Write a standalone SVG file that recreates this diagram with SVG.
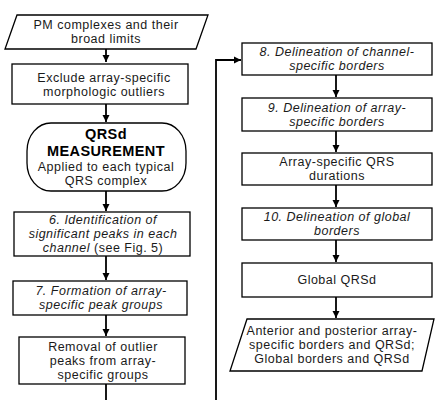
<svg xmlns="http://www.w3.org/2000/svg" width="435" height="400" viewBox="0 0 435 400">
<defs>
<style>
.b{fill:#fff;stroke:#000;stroke-width:1.3}
text{font-family:"Liberation Sans",Arial,sans-serif;font-size:12.5px;letter-spacing:0.5px;fill:#1a1a1a;text-anchor:middle}
.i{font-style:italic}
.h{font-weight:bold;font-size:14.5px;letter-spacing:0.4px;fill:#000}
.c{fill:none;stroke:#000;stroke-width:1.8}
</style>
<marker id="ah" markerWidth="8" markerHeight="8" refX="7" refY="4" orient="auto" markerUnits="userSpaceOnUse">
<path d="M0,0.5 L7,4 L0,7.5 Z" fill="#000"/>
</marker>
</defs>
<g id="connectors">
<path class="c" d="M106,49 V62" marker-end="url(#ah)"/>
<path class="c" d="M106,104 V122" marker-end="url(#ah)"/>
<path class="c" d="M106,191 V211" marker-end="url(#ah)"/>
<path class="c" d="M106,256 V280" marker-end="url(#ah)"/>
<path class="c" d="M106,315 V336" marker-end="url(#ah)"/>
<path class="c" d="M106,384 V400"/>
<path class="c" d="M216,400 V60 H241" marker-end="url(#ah)"/>
<path class="c" d="M336,75 V97" marker-end="url(#ah)"/>
<path class="c" d="M336,131 V152" marker-end="url(#ah)"/>
<path class="c" d="M336,185 V207" marker-end="url(#ah)"/>
<path class="c" d="M336,240 V262" marker-end="url(#ah)"/>
<path class="c" d="M336,297 V318" marker-end="url(#ah)"/>
</g>
<g id="n1">
<polygon class="b" points="17,15 208,15 196,49 5,49"/>
<text x="106" y="29.4">PM complexes and their</text>
<text x="106" y="43.4">broad limits</text>
</g>
<g id="n2">
<rect class="b" x="12" y="64" width="176" height="40"/>
<text x="104" y="82.4">Exclude array-specific</text>
<text x="104" y="96.4">morphologic outliers</text>
</g>
<g id="n3">
<rect class="b" x="27" y="123" width="159" height="68" rx="24" ry="28"/>
<text class="h" x="106" y="139">QRSd</text>
<text class="h" x="106" y="155.5">MEASUREMENT</text>
<text x="106" y="170.5">Applied to each typical</text>
<text x="106" y="184.5">QRS complex</text>
</g>
<g id="n4">
<rect class="b" x="14" y="212" width="176" height="44"/>
<text class="i" x="103" y="224.4">6. Identification of</text>
<text class="i" x="103" y="238.4">significant peaks in each</text>
<text x="103" y="252.4"><tspan class="i">channel</tspan> (see Fig. 5)</text>
</g>
<g id="n5">
<rect class="b" x="13" y="281" width="174" height="34"/>
<text class="i" x="101" y="295.4">7. Formation of array-</text>
<text class="i" x="101" y="309.4">specific peak groups</text>
</g>
<g id="n6">
<rect class="b" x="19" y="337" width="166" height="47"/>
<text x="103" y="350.9">Removal of outlier</text>
<text x="103" y="364.9">peaks from array-</text>
<text x="103" y="378.9">specific groups</text>
</g>
<g id="n7">
<rect class="b" x="242" y="43" width="190" height="32"/>
<text class="i" x="337" y="56.4">8. Delineation of channel-</text>
<text class="i" x="337" y="70.4">specific borders</text>
</g>
<g id="n8">
<rect class="b" x="242" y="98" width="190" height="33"/>
<text class="i" x="337" y="111.9">9. Delineation of array-</text>
<text class="i" x="337" y="125.9">specific borders</text>
</g>
<g id="n9">
<rect class="b" x="242" y="153" width="190" height="32"/>
<text x="337" y="166.4">Array-specific QRS</text>
<text x="337" y="180.4">durations</text>
</g>
<g id="n10">
<rect class="b" x="242" y="208" width="190" height="32"/>
<text class="i" x="337" y="221.4">10. Delineation of global</text>
<text class="i" x="337" y="235.4">borders</text>
</g>
<g id="n11">
<rect class="b" x="242" y="263" width="190" height="34"/>
<text x="337" y="284.4">Global QRSd</text>
</g>
<g id="n12">
<polygon class="b" points="247,319 434,319 422,371 230,371"/>
<text x="332" y="335.4">Anterior and posterior array-</text>
<text x="332" y="349.4">specific borders and QRSd;</text>
<text x="332" y="363.4">Global borders and QRSd</text>
</g>
</svg>
